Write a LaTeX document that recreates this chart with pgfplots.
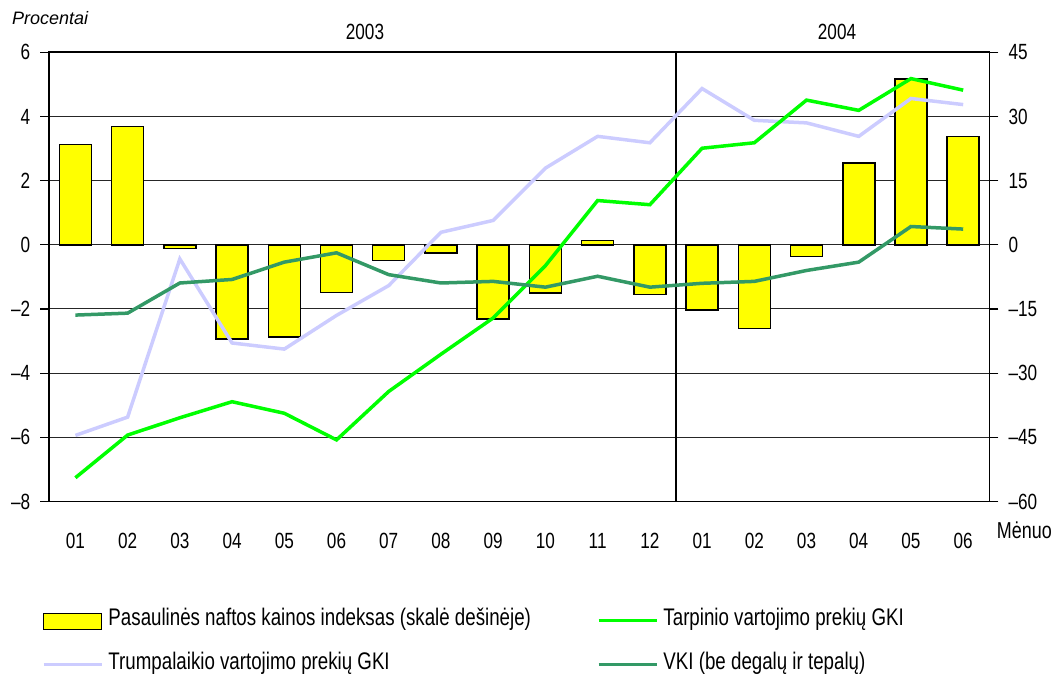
\documentclass[border=0pt]{standalone}
\usepackage{fontspec}
\setmainfont{Liberation Sans}[FakeStretch=0.78]
\newfontfamily\plainfont{Liberation Sans}
\usepackage{pgfplots}
\usepackage{pgfplotstable}
\pgfplotsset{compat=1.18}
\newcommand\tickfont{\fontsize{22}{26}\selectfont}
\newcommand\legfont{\fontsize{24}{28}\selectfont}
\definecolor{oilyellow}{HTML}{FFFF00}
\definecolor{tarp}{HTML}{00FF00}
\definecolor{trump}{HTML}{CCCCFF}
\definecolor{vki}{HTML}{339966}

\pgfplotstableread{
x oil
0 23.4
1 27.6
2 -0.9
3 -22.0
4 -21.5
5 -11.2
6 -3.7
7 -1.9
8 -17.4
9 -11.3
10 1.0
11 -11.6
12 -15.2
13 -19.6
14 -2.7
15 19.1
16 38.8
17 25.3
}\oiltable

\pgfplotstableread{
x tarp trump vki
0 -7.26 -5.94 -2.19
1 -5.93 -5.37 -2.13
2 -5.39 -0.44 -1.19
3 -4.89 -3.06 -1.08
4 -5.25 -3.25 -0.54
5 -6.08 -2.20 -0.25
6 -4.57 -1.27 -0.93
7 -3.41 0.39 -1.19
8 -2.28 0.76 -1.14
9 -0.65 2.39 -1.32
10 1.38 3.38 -0.98
11 1.25 3.18 -1.32
12 3.01 4.87 -1.20
13 3.18 3.88 -1.14
14 4.51 3.80 -0.80
15 4.19 3.38 -0.54
16 5.18 4.56 0.57
17 4.82 4.37 0.49
}\linetable

\begin{document}
\begin{tikzpicture}
\useasboundingbox (0,0) rectangle (1053pt,673pt);
\pgfplotsset{common/.style={
  scale only axis, width=940pt, height=449.2pt,
  at={(49.3pt,171.5pt)}, anchor=south west,
  xmin=-0.5, xmax=17.5,
  tick align=outside, major tick length=9pt,
  axis line style={line width=1.6pt},
  ytick style={black, line width=1.2pt},
}}
% frame, grid, x labels and right scale
\begin{axis}[common,
  ymin=-60, ymax=45,
  xtick={0,...,17},
  xticklabels={01,02,03,04,05,06,07,08,09,10,11,12,01,02,03,04,05,06},
  xtick style={draw=none},
  xticklabel style={font=\tickfont, inner sep=0pt, anchor=north, yshift=-22.5pt},
  ytick={-60,-45,-30,-15,0,15,30,45},
  yticklabels={–60,–45,–30,–15,0,15,30,45},
  ytick pos=right,
  yticklabel style={font=\tickfont, inner sep=0pt, anchor=west, xshift=10pt},
  ymajorgrids, grid style={black!85, line width=1pt}]
\draw[line width=1.6pt] (axis cs:11.5,-60) -- (axis cs:11.5,45);
\end{axis}
% bars, right scale
\begin{axis}[common, hide axis,
  ymin=-60, ymax=45,
  ybar, bar width=32pt]
\addplot[fill=oilyellow, draw=black, line width=1.5pt] table[x=x,y=oil]{\oiltable};
\end{axis}
% lines, left scale
\begin{axis}[common,
  ymin=-8, ymax=6,
  hide x axis, axis y line*=left,
  ytick={-8,-6,-4,-2,0,2,4,6},
  yticklabels={–8,–6,–4,–2,0,2,4,6},
  yticklabel style={font=\tickfont, inner sep=0pt, anchor=east, xshift=-10pt},
  legend columns=2,
  legend cell align=left,
  legend style={draw=none, fill=none, at={(0,0)}, anchor=north west,
    xshift=-7.3pt, yshift=-106.5pt, inner sep=0pt, outer sep=0pt,
    row sep=21.5pt, font=\legfont,
    nodes={inner sep=0pt, text height=17.5pt, text depth=5pt},
    /tikz/every odd column/.append style={column sep=5pt},
    /tikz/every even column/.append style={column sep=66pt}},
  ]
\addplot[trump, line width=3.5pt, forget plot] table[x=x,y=trump]{\linetable};
\addplot[tarp, line width=3.5pt, forget plot] table[x=x,y=tarp]{\linetable};
\addplot[vki, line width=3.5pt, forget plot] table[x=x,y=vki]{\linetable};
\addlegendimage{legend image code/.code={\draw[fill=oilyellow, draw=black, line width=1.5pt] (0pt,-10pt) rectangle (58pt,6pt);}}
\addlegendentry{Pasaulinės naftos kainos indeksas (skalė dešinėje)}
\addlegendimage{legend image code/.code={\draw[tarp, line width=3.5pt] (0pt,-1.25pt) -- (58pt,-1.25pt);}}
\addlegendentry{Tarpinio vartojimo prekių GKI}
\addlegendimage{legend image code/.code={\draw[trump, line width=3.5pt] (0pt,-1.25pt) -- (58pt,-1.25pt);}}
\addlegendentry{Trumpalaikio vartojimo prekių GKI}
\addlegendimage{legend image code/.code={\draw[vki, line width=3.5pt] (0pt,-1.25pt) -- (58pt,-1.25pt);}}
\addlegendentry{VKI (be degalų ir tepalų)}
\end{axis}
\node[font=\tickfont, anchor=base] at (365pt,633.7pt) {2003};
\node[font=\tickfont, anchor=base] at (837pt,633.7pt) {2004};
\node[font=\plainfont\itshape\fontsize{18}{20}\selectfont, anchor=base west, inner sep=0pt] at (12pt,648pt) {Procentai};
\node[font=\fontsize{23}{26}\selectfont, anchor=base east, inner sep=0pt] at (1052pt,135pt) {Mėnuo};
\end{tikzpicture}
\end{document}
